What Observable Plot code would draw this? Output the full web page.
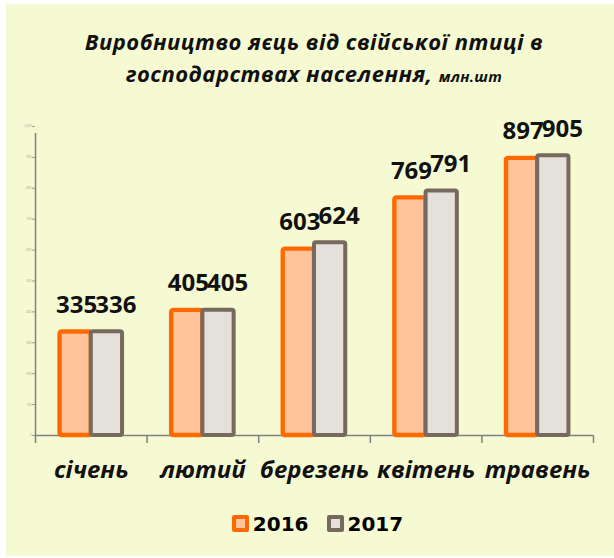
<!DOCTYPE html>
<html>
<head>
<meta charset="utf-8">
<script src="https://cdn.jsdelivr.net/npm/d3@7"></script>
<script src="https://cdn.jsdelivr.net/npm/@observablehq/plot@0.6"></script>
<style>
  html, body { margin: 0; padding: 0; background: #ffffff; }
  #page { position: relative; width: 614px; height: 558px; overflow: hidden; }
  #panel { position: absolute; left: 6px; top: 4px; width: 608px; height: 552px; background: #F6FAD2; }
  #title { padding-top: 21px; padding-left: 8px; text-align: center; font-family: "Open Sans", sans-serif;
           font-weight: bold; font-style: italic; font-size: 22px; letter-spacing: 0.5px; line-height: 32px; color: #111; }
  #title .unit { font-size: 15px; letter-spacing: 0.3px; }
  #plot svg { display: block; }
  #legend { height: 43px; display: flex; justify-content: center; align-items: center; padding-left: 15px;
            font-family: "DejaVu Sans", sans-serif; font-weight: bold; font-size: 20px; color: #000; }
  .item { display: flex; align-items: center; margin: 0 9px; }
  .sw { width: 9px; height: 9px; border-style: solid; border-width: 4px; border-radius: 2px; margin-right: 4px; }
</style>
</head>
<body>
<div id="page">
  <div id="panel">
    <div id="title">Виробництво яєць від свійської птиці в<br>господарствах населення, <span class="unit">млн.шт</span></div>
    <div id="plot"></div>
    <div id="legend"></div>
  </div>
</div>
<script>
const months = ["січень", "лютий", "березень", "квітень", "травень"];
const years = ["2016", "2017"];
const values2016 = [335, 405, 603, 769, 897];
const values2017 = [336, 405, 624, 791, 905];
const yTicks = d3.range(0, 1001, 100);

const fills = {"2016": "#FFC499", "2017": "#E4E1DC"};
const strokes = {"2016": "#FF6A00", "2017": "#756A5D"};
const slot = {"2016": [0.22, 0.5], "2017": [0.5, 0.78]};
const labelShift = {"2016": 1, "2017": 9};

const rows = months.flatMap((m, i) => [
  {month: m, i, year: "2016", value: values2016[i]},
  {month: m, i, year: "2017", value: values2017[i]}
]);
rows.forEach(d => { d.x1 = d.i + slot[d.year][0]; d.x2 = d.i + slot[d.year][1]; d.xc = (d.x1 + d.x2) / 2; });

const font = '"Open Sans", sans-serif';
const axisGray = "#808080";

const chart = Plot.plot({
  width: 608,
  height: 410,
  marginLeft: 29,
  marginRight: 21,
  marginTop: 34,
  marginBottom: 67,
  x: {domain: [0, months.length], axis: null},
  y: {domain: [0, 1000], axis: null},
  style: {background: "transparent", fontFamily: font, overflow: "visible"},
  marks: [
    Plot.axisY({ticks: yTicks, tickSize: 3, tickPadding: 1, fontSize: 3, color: "#999", strokeWidth: 1, label: null}),
    Plot.ruleX([0], {y1: 0, y2: 1000, stroke: axisGray, strokeWidth: 1.5, insetBottom: -7}),
    Plot.ruleY([0], {stroke: axisGray, strokeWidth: 1.5}),
    Plot.axisX({ticks: d3.range(months.length + 1), tickSize: 8, tickFormat: () => "", color: axisGray, strokeWidth: 1.5, label: null}),
    ...years.map(yr => Plot.rectY(rows.filter(d => d.year === yr), {
      x1: "x1", x2: "x2", y: "value",
      fill: d => fills[d.year], stroke: d => strokes[d.year],
      strokeWidth: yr === "2016" ? 4.4 : 4, rx: 2
    })),
    ...years.map(yr => Plot.text(rows.filter(d => d.year === yr), {
      x: "xc", y: "value", text: d => String(d.value),
      lineAnchor: "bottom", dy: -19, dx: labelShift[yr],
      fontSize: 24, fontWeight: "bold", fill: "#111"
    })),
    Plot.text(months, {
      x: (d, i) => i + 0.5, text: d => d, frameAnchor: "bottom",
      lineAnchor: "bottom", dy: 42, fontSize: 24, fontWeight: "bold", fontStyle: "italic", fill: "#111"
    })
  ]
});
document.getElementById("plot").appendChild(chart);

const legend = document.getElementById("legend");
years.forEach(yr => {
  const item = document.createElement("div");
  item.className = "item";
  const sw = document.createElement("div");
  sw.className = "sw";
  sw.style.background = fills[yr];
  sw.style.borderColor = strokes[yr];
  const label = document.createElement("span");
  label.textContent = yr;
  item.appendChild(sw);
  item.appendChild(label);
  legend.appendChild(item);
});
</script>
</body>
</html>
